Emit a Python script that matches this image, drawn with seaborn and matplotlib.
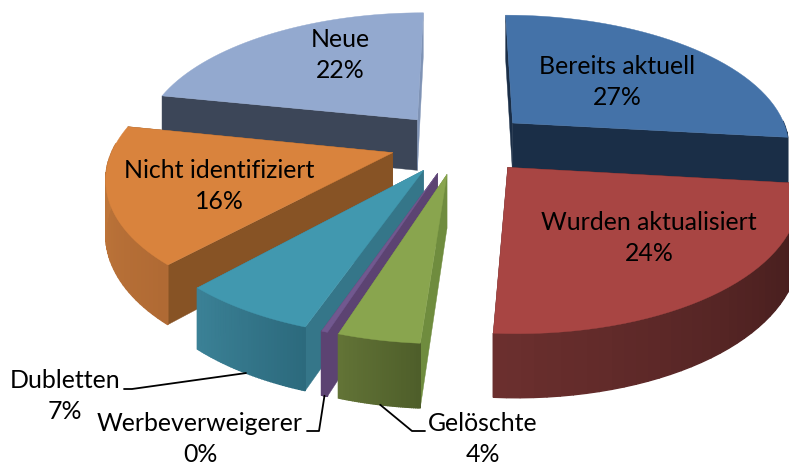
import numpy as np
import seaborn as sns
import matplotlib.pyplot as plt

labels = ["Bereits aktuell", "Wurden aktualisiert", "Gelöschte", "Werbeverweigerer",
          "Dubletten", "Nicht identifiziert", "Neue"]
shown_pct = ["27%", "24%", "4%", "0%", "7%", "16%", "22%"]
values = [26.8, 24.3, 3.9, 0.3, 6.5, 16.4, 21.8]

top_colors = ["#4472A8", "#A84543", "#89A54E", "#71588F", "#4198AF", "#D9833D", "#93A9CF"]
cut_start = ["#1A2E47", "#4A1E1D", "#6F8C3E", "#5C4372", "#357689", "#875325", "#3C4658"]
cut_end = ["#1A2E47", "#4A1E1D", "#6F8C3E", "#5C4372", "#357689", "#875325", "#7F93B5"]
wall_start = ["#1A2E47", "#3E1A1A", "#4E5E2A", "#5C4372", "#2C6A7D", "#B06A34", "#3C4658"]
wall_end = ["#1A2E47", "#6B2F2E", "#627336", "#5C4372", "#3B8196", "#C47A3C", "#3C4658"]
text_pos = [(617, 82), (649, 238), (483, 439), (200, 439), (65, 396), (219, 186), (340, 55)]
draw_order = [6, 0, 5, 1, 4, 3, 2]

# leaders: slice index, label end, elbow, position inside the slice (0-1)
leaders = [(4, (124, 389), (132, 389), 0.5),
           (3, (307, 431), (319, 431), 0.5),
           (2, (425, 431), (412, 431), 0.48)]

# projection of the pie plane to the picture (px)
cx, cy = 461, 143
rx, ry = 278, 131
persp = 0.16
depth = 52
explode_x, explode_y = 0.255, 0.235


def project(x, y, z=0.0):
    d = 1 + persp * y
    return cx + rx * x / d, cy - ry * y / d + z * depth / d


sns.set_theme(style="white")
plt.rcParams["font.family"] = ["Lato", "DejaVu Sans"]

fig = plt.figure(figsize=(7.89, 4.65), dpi=100)
ax = fig.add_axes([0, 0, 1, 1])
ax.set_xlim(0, 789)
ax.set_ylim(465, 0)
ax.axis("off")

edges = np.concatenate([[0], np.cumsum(values)]) / sum(values) * 2 * np.pi
apexes = []
for i in range(len(values)):
    mid = (edges[i] + edges[i + 1]) / 2
    apexes.append((explode_x * np.sin(mid), explode_y * np.cos(mid)))


def rim(i, t, z=0.0):
    a = edges[i] + t * (edges[i + 1] - edges[i])
    return project(apexes[i][0] + np.sin(a), apexes[i][1] + np.cos(a), z)


for i in draw_order:
    ax_, ay_ = apexes[i]
    ts = np.linspace(0, 1, 40)
    # the two flat cut faces
    for t, col in ((0, cut_start[i]), (1, cut_end[i])):
        pts = [project(ax_, ay_), rim(i, t), rim(i, t, 1), project(ax_, ay_, 1)]
        ax.fill(*zip(*pts), color=col, lw=0.3)
    # outer rounded wall, shaded along the arc, only the part facing us
    pal = sns.blend_palette([wall_start[i], wall_end[i]], len(ts) - 1)
    for k in range(len(ts) - 1):
        a = edges[i] + ts[k] * (edges[i + 1] - edges[i])
        if np.cos(a) > 0.05:
            continue
        pts = [rim(i, ts[k]), rim(i, ts[k + 1]), rim(i, ts[k + 1], 1), rim(i, ts[k], 1)]
        ax.fill(*zip(*pts), color=pal[k], lw=1.0)
    # top face
    pts = [project(ax_, ay_)] + [rim(i, t) for t in ts]
    ax.fill(*zip(*pts), color=top_colors[i], lw=0.3)

for i, (x, y) in enumerate(text_pos):
    ax.text(x, y, labels[i] + "\n" + shown_pct[i], ha="center", va="center",
            fontsize=17.9, color="black", linespacing=1.45)

for i, start, elbow, t in leaders:
    end = rim(i, t, 1)
    ax.plot([start[0], elbow[0], end[0]], [start[1], elbow[1], end[1]], color="black", lw=1.3)

fig.savefig("out.png", dpi=100)
